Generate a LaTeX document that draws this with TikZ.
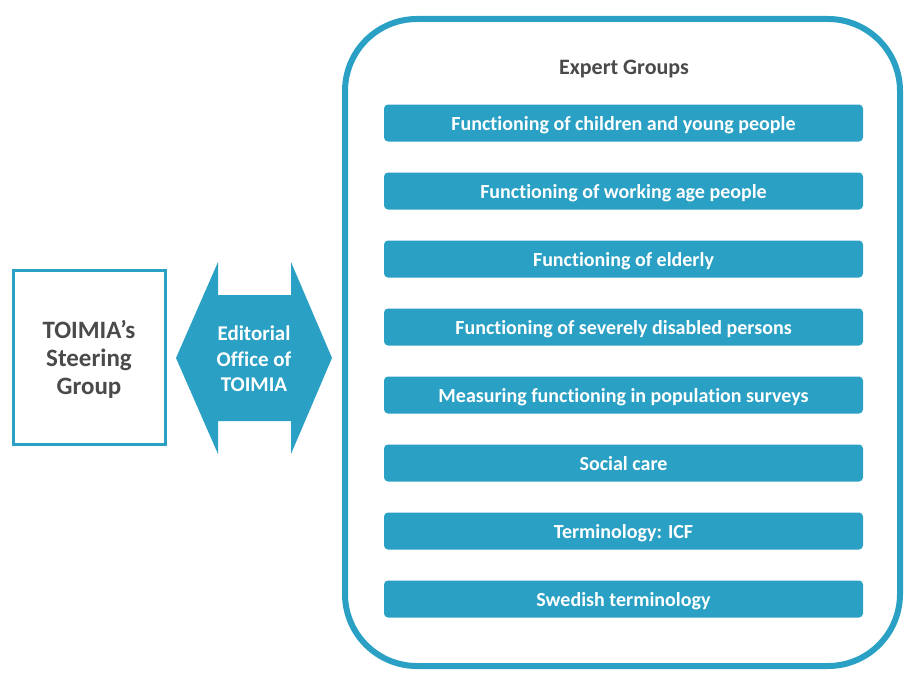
\documentclass[tikz,border=0pt]{standalone}
\usepackage{fontspec}
\setmainfont{Carlito}[RawFeature={-liga;-clig;-calt;-dlig}]
\definecolor{teal}{RGB}{41,160,196}
\definecolor{darktext}{RGB}{74,74,74}
\tikzset{
  frame/.style={draw=teal, line width=3pt},
  bigframe/.style={draw=teal, line width=6pt, rounded corners=72pt},
  bar/.style={fill=teal, rounded corners=4pt, minimum width=479pt, minimum height=37pt, inner sep=0pt,
    text height=17pt, text depth=2pt,
    text=white, font=\bfseries\fontsize{20}{24}\selectfont},
  darklabel/.style={text=darktext, font=\bfseries\fontsize{25}{28}\selectfont, align=center},
  arrowlabel/.style={text=white, font=\bfseries\fontsize{21}{25.5}\selectfont, align=center},
}
\begin{document}
\begin{tikzpicture}[x=1pt,y=-1pt]
\useasboundingbox (0,0) rectangle (920,693);
% steering group
\node[frame, minimum width=152pt, minimum height=174pt, inner sep=0pt] (steer) at (89,357) {};
\node[darklabel] (steertext) at (89,359) {TOIMIA’s\\Steering\\Group};
% double arrow
\fill[teal] (176,358) -- (218,262) -- (218,295) -- (291,295) -- (291,262) -- (332,358)
  -- (291,454) -- (291,421) -- (218,421) -- (218,454) -- cycle;
\node[arrowlabel] (office) at (254,359) {Editorial\\Office of\\TOIMIA};
% expert groups frame
\draw[bigframe] (345,19) rectangle (900,666);
\node[darklabel, font=\bfseries\fontsize{22}{24}\selectfont] (eg) at (624,69) {Expert Groups};
\node[bar] (b1) at (623.5,123) {Functioning of children and young people};
\node[bar] (b2) at (623.5,191) {Functioning of working age people};
\node[bar] (b3) at (623.5,259) {Functioning of elderly};
\node[bar] (b4) at (623.5,327) {Functioning of severely disabled persons};
\node[bar] (b5) at (623.5,395) {Measuring functioning in population surveys};
\node[bar] (b6) at (623.5,463) {Social care};
\node[bar] (b7) at (623.5,531) {Terminology: ICF};
\node[bar] (b8) at (623.5,599) {Swedish terminology};
\end{tikzpicture}
\end{document}
